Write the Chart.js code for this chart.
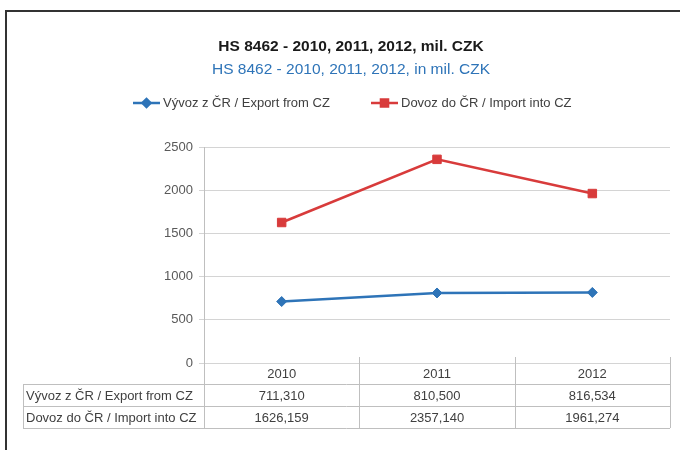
<!DOCTYPE html>
<html>
<head>
<meta charset="utf-8">
<script src="https://cdn.jsdelivr.net/npm/chart.js@4.4.0/dist/chart.umd.min.js"></script>
<style>
  body { margin: 0; background: #fff; }
  #wrap { width: 680px; height: 450px; }
</style>
</head>
<body>
<div id="wrap"><canvas id="chart"></canvas></div>
<script>
const titleText = "HS 8462 - 2010, 2011, 2012, mil. CZK";
const subtitleText = "HS 8462 - 2010, 2011, 2012, in mil. CZK";
const years = ["2010", "2011", "2012"];
const exportLabel = "Vývoz z ČR / Export from CZ";
const importLabel = "Dovoz do ČR / Import into CZ";
const exportValues = [711.310, 810.500, 816.534];
const importValues = [1626.159, 2357.140, 1961.274];
const yMin = 0, yMax = 2500, yStep = 500;

const FONT = "'Liberation Sans', Arial, sans-serif";
const BLUE = "#2e74b8";
const RED = "#d83b3b";
const GRID = "#d4d4d4";

const fmt = (v) => v.toFixed(3).replace(".", ",");

// draws frame, titles, legend and the data table under the plot
const decorPlugin = {
  id: "decor",
  beforeDraw(chart) {
    const ctx = chart.ctx;
    ctx.save();
    ctx.fillStyle = "#fff";
    ctx.fillRect(0, 0, chart.width, chart.height);
    ctx.strokeStyle = "#333";
    ctx.lineWidth = 2;
    ctx.beginPath();
    ctx.moveTo(6, 450);
    ctx.lineTo(6, 11);
    ctx.lineTo(680, 11);
    ctx.stroke();
    ctx.restore();
  },
  afterDraw(chart) {
    const ctx = chart.ctx;
    const x = chart.scales.x;
    const area = chart.chartArea;
    const half = (x.getPixelForValue(1) - x.getPixelForValue(0)) / 2;
    ctx.save();

    // titles
    ctx.textAlign = "center";
    ctx.textBaseline = "middle";
    ctx.fillStyle = "#1a1a1a";
    ctx.font = "bold 15.5px " + FONT;
    ctx.fillText(titleText, 351, 47);
    ctx.fillStyle = BLUE;
    ctx.font = "15.5px " + FONT;
    ctx.fillText(subtitleText, 351, 70);

    // legend
    const legend = [
      { label: exportLabel, color: BLUE, style: "rectRot", x: 133 },
      { label: importLabel, color: RED, style: "rect", x: 371 }
    ];
    ctx.font = "13px " + FONT;
    ctx.textAlign = "left";
    legend.forEach((item) => {
      ctx.strokeStyle = item.color;
      ctx.lineWidth = 2.5;
      ctx.beginPath();
      ctx.moveTo(item.x, 103);
      ctx.lineTo(item.x + 27, 103);
      ctx.stroke();
      Chart.helpers.drawPoint(ctx, {
        pointStyle: item.style,
        radius: item.style === "rect" ? 5 : 4,
        borderWidth: 1
      }, item.x + 13.5, 103);
      ctx.fillStyle = item.color;
      ctx.fill();
      ctx.fillStyle = "#404040";
      ctx.fillText(item.label, item.x + 30, 103);
    });

    // data table
    const top = area.bottom;
    const rowH = [21, 22, 22];
    const r1 = top + rowH[0];
    const r2 = r1 + rowH[1];
    const r3 = r2 + rowH[2];
    const left = 23;
    const right = x.getPixelForValue(years.length - 1) + half;
    ctx.strokeStyle = "#bfbfbf";
    ctx.lineWidth = 1;
    ctx.beginPath();
    [r1, r2, r3].forEach((y) => {
      ctx.moveTo(left, y + 0.5);
      ctx.lineTo(right, y + 0.5);
    });
    ctx.moveTo(left + 0.5, r1);
    ctx.lineTo(left + 0.5, r3);
    for (let i = 0; i <= years.length; i++) {
      const px = Math.round(x.getPixelForValue(i) - half) + 0.5;
      ctx.moveTo(px, i === 0 ? area.top : top - 6);
      ctx.lineTo(px, r3);
    }
    ctx.stroke();

    ctx.fillStyle = "#404040";
    ctx.font = "13px " + FONT;
    ctx.textAlign = "left";
    ctx.fillText(exportLabel, 26, (r1 + r2) / 2 + 1);
    ctx.fillText(importLabel, 26, (r2 + r3) / 2 + 1);
    ctx.textAlign = "center";
    years.forEach((yr, i) => {
      const cx = x.getPixelForValue(i);
      ctx.fillText(yr, cx, (top + r1) / 2 + 1);
      ctx.fillText(fmt(exportValues[i]), cx, (r1 + r2) / 2 + 1);
      ctx.fillText(fmt(importValues[i]), cx, (r2 + r3) / 2 + 1);
    });
    ctx.restore();
  }
};

new Chart(document.getElementById("chart"), {
  type: "line",
  data: {
    labels: years,
    datasets: [
      {
        label: exportLabel,
        data: exportValues,
        borderColor: BLUE,
        backgroundColor: BLUE,
        borderWidth: 2.5,
        pointStyle: "rectRot",
        pointRadius: 5,
        pointBorderWidth: 1,
        tension: 0
      },
      {
        label: importLabel,
        data: importValues,
        borderColor: RED,
        backgroundColor: RED,
        borderWidth: 2.5,
        pointStyle: "rect",
        pointRadius: 6,
        pointBorderWidth: 1,
        tension: 0
      }
    ]
  },
  options: {
    responsive: true,
    maintainAspectRatio: false,
    animation: false,
    layout: { padding: { left: 8, right: 10, top: 147, bottom: 87 } },
    plugins: {
      legend: { display: false },
      title: { display: false },
      tooltip: { enabled: false }
    },
    scales: {
      x: {
        display: false,
        offset: true
      },
      y: {
        min: yMin,
        max: yMax,
        afterFit(scale) { scale.width = 196; },
        ticks: {
          stepSize: yStep,
          padding: 6,
          color: "#595959",
          font: { family: FONT, size: 13 },
          callback: (v) => String(v)
        },
        grid: { color: GRID, tickLength: 5 },
        border: { color: "#bfbfbf" }
      }
    }
  },
  plugins: [decorPlugin]
});
</script>
</body>
</html>
